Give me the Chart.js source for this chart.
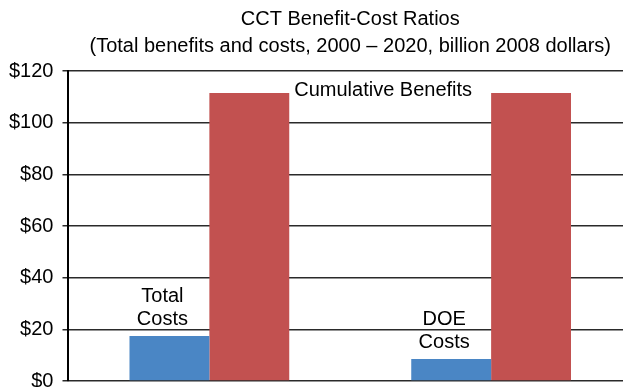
<!DOCTYPE html>
<html>
<head>
<meta charset="utf-8">
<script src="https://cdn.jsdelivr.net/npm/chart.js@4.4.0/dist/chart.umd.min.js"></script>
<style>
    html, body { margin: 0; padding: 0; background: #fff; width: 623px; height: 387px; overflow: hidden; }
    .chart_box { width: 632px; height: 387px; }
</style>
</head>
<body>
<div class="chart_box"><canvas class="bar_canvas"></canvas></div>
<script>
const categories = ['Total', 'DOE'];
const costs = [17.4, 8.5];
const benefits = [111.5, 111.5];
const costLabels = [['Total', 'Costs'], ['DOE', 'Costs']];
const benefitLabel = 'Cumulative Benefits';
const titleLines = ['CCT Benefit-Cost Ratios', '(Total benefits and costs, 2000 \u2013 2020, billion 2008 dollars)'];
const yTicks = [0, 20, 40, 60, 80, 100, 120];

const font = '"Liberation Sans", Arial, sans-serif';

// text next to the bars
const barText = {
    id: 'barText',
    afterDatasetsDraw(chart) {
        const c = chart.ctx;
        const blue = chart.getDatasetMeta(0).data;
        const red = chart.getDatasetMeta(1).data;
        c.save();
        c.font = '20px ' + font;
        c.fillStyle = '#000';
        c.textAlign = 'center';
        c.textBaseline = 'alphabetic';
        blue.forEach(function(bar, i) {
            c.fillText(costLabels[i][0], bar.x - 7, bar.y - 34);
            c.fillText(costLabels[i][1], bar.x - 7, bar.y - 11);
        });
        c.fillText(benefitLabel, (red[0].x + red[1].x) / 2 - 7, red[0].y + 3);
        c.restore();
    }
};

window.onload = function() {
    const ctx = document.querySelector('.bar_canvas');
    const bar_canvas = new Chart(ctx, {
        type: 'bar',
        data: {
            labels: categories,
            datasets: [{
                label: 'Costs',
                data: costs,
                backgroundColor: '#4a86c5',
                borderWidth: 0
            }, {
                label: 'Cumulative Benefits',
                data: benefits,
                backgroundColor: '#c25150',
                borderWidth: 0
            }]
        },
        options: {
            responsive: true,
            maintainAspectRatio: false,
            animation: false,
            categoryPercentage: 0.567,
            barPercentage: 1,
            layout: {
                padding: { left: 0, right: 0, top: 0, bottom: 6 }
            },
            plugins: {
                legend: { display: false },
                tooltip: { enabled: false },
                title: {
                    display: true,
                    fullSize: false,
                    text: titleLines,
                    color: '#000',
                    font: { family: font, size: 20, weight: 'normal', lineHeight: 1.35 },
                    padding: { top: 6, bottom: 11 }
                }
            },
            scales: {
                x: {
                    display: false
                },
                y: {
                    min: 0,
                    max: 120,
                    afterBuildTicks: function(s) {
                        s.ticks = yTicks.map(function(v) { return { value: v }; });
                    },
                    afterFit: function(s) {
                        s.paddingTop = 0;
                        s.paddingBottom = 0;
                    },
                    ticks: {
                        color: '#000',
                        padding: 9,
                        font: { family: font, size: 20 },
                        callback: function(v) { return '$' + v; }
                    },
                    grid: {
                        color: '#2a2a2a',
                        lineWidth: 1.5,
                        tickLength: 6,
                        tickColor: '#2a2a2a'
                    },
                    border: {
                        color: '#000',
                        width: 2
                    }
                }
            }
        },
        plugins: [barText]
    });
};
</script>
</body>
</html>
